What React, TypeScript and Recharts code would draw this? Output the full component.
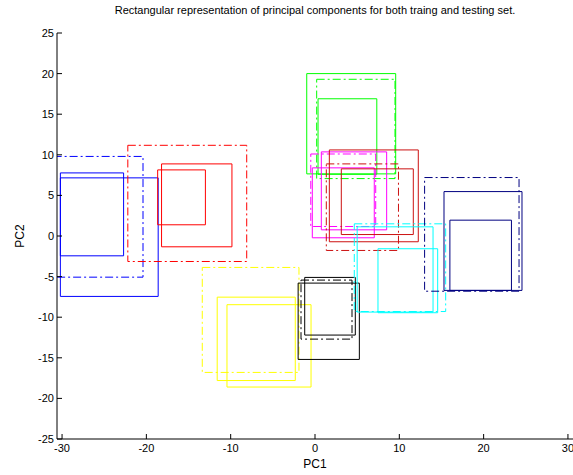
import { ComposedChart, ReferenceArea, XAxis, YAxis } from 'recharts'

// each box: [x1, x2, y1, y2] in PC1 / PC2 units
const blueBoxes = [[-30.2, -18.6, -7.44, 7.16], [-30.2, -22.7, -2.44, 7.77]]
const blueDash = [-31, -20.4, -5.07, 9.8]
const redBoxes = [[-18.2, -9.85, -1.33, 8.88], [-18.66, -13.0, 1.38, 8.14]]
const redDash = [-22.2, -8.1, -3.14, 11.17]
const yellowBoxes = [[-11.6, -2.34, -17.8, -7.53], [-10.44, -0.47, -18.6, -8.46]]
const yellowDash = [-13.37, -1.9, -16.8, -3.87]
const blackBoxes = [[-2.0, 5.26, -15.2, -5.8], [-1.22, 4.78, -12.2, -5.1]]
const blackDash = [-1.66, 4.39, -12.7, -5.43]
const greenBoxes = [[-0.98, 9.57, 7.65, 20.0], [0.36, 7.33, 7.6, 16.9]]
const greenDash = [0.2, 9.49, 7.07, 19.3]
const magentaBoxes = [[0.75, 8.5, 0.76, 10.36], [-0.32, 7.03, -0.22, 8.39]]
const magentaDash = [-0.5, 7.2, 1.17, 10.1]
const darkRedBoxes = [[1.7, 12.25, -0.71, 10.6], [3.12, 11.66, 0.18, 8.27]]
const darkRedDash = [1.34, 9.9, -1.78, 8.88]
const cyanBoxes = [[5.0, 14.0, -9.37, 1.13], [7.47, 14.55, -9.45, -1.57]]
const cyanDash = [4.66, 15.5, -9.3, 1.5]
const navyBoxes = [[15.3, 24.55, -6.7, 5.47], [16.0, 23.3, -6.7, 1.95]]
const navyDash = [13.0, 24.2, -6.8, 7.2]

const xTicks = [-30, -20, -10, 0, 10, 20, 30]
const yTicks = [-25, -20, -15, -10, -5, 0, 5, 10, 15, 20, 25]

const groups = [
  { color: '#0000ff', boxes: blueBoxes, dash: blueDash },
  { color: '#ff0000', boxes: redBoxes, dash: redDash },
  { color: '#ffff00', boxes: yellowBoxes, dash: yellowDash },
  { color: '#000000', boxes: blackBoxes, dash: blackDash },
  { color: '#00ff00', boxes: greenBoxes, dash: greenDash },
  { color: '#ff00ff', boxes: magentaBoxes, dash: magentaDash },
  { color: '#cc1111', boxes: darkRedBoxes, dash: darkRedDash },
  { color: '#00ffff', boxes: cyanBoxes, dash: cyanDash },
  { color: '#000080', boxes: navyBoxes, dash: navyDash },
]

const FONT = '"Liberation Sans", Arial, sans-serif'

const XTick = (props: any) => {
  const { x, y, payload } = props
  return (
    <g>
      <line x1={x} x2={x} y1={y} y2={y - 5} stroke="#000" />
      <text x={x} y={y + 13} textAnchor="middle" fontSize={11} fontFamily={FONT} fill="#000">
        {payload.value}
      </text>
    </g>
  )
}

const YTick = (props: any) => {
  const { x, y, payload } = props
  return (
    <g>
      <line x1={x} x2={x + 5} y1={y} y2={y} stroke="#000" />
      <text x={x - 3} y={y + 4} textAnchor="end" fontSize={11} fontFamily={FONT} fill="#000">
        {payload.value}
      </text>
    </g>
  )
}

function box(b: number[], color: string, key: string, dashed: boolean) {
  return (
    <ReferenceArea
      key={key}
      x1={b[0]}
      x2={b[1]}
      y1={b[2]}
      y2={b[3]}
      fill="none"
      fillOpacity={0}
      stroke={color}
      strokeWidth={1}
      strokeDasharray={dashed ? '8 3 2 3' : undefined}
      ifOverflow="hidden"
    />
  )
}

export default function App() {
  return (
    <div style={{ position: 'relative', width: 573, height: 475, background: '#fff', fontFamily: FONT }}>
      <style>{'body{margin:0}'}</style>
      <div
        style={{
          position: 'absolute',
          top: 4,
          left: 57,
          width: 516,
          textAlign: 'center',
          fontSize: 11,
          color: '#000',
          whiteSpace: 'nowrap',
        }}
      >
        Rectangular representation of principal components for both traing and testing set.
      </div>
      <ComposedChart width={573} height={475} data={[]} margin={{ top: 33, right: 0, bottom: 0, left: 0 }}>
        <XAxis
          type="number"
          dataKey="x"
          domain={[-30.6, 30.6]}
          ticks={xTicks}
          allowDataOverflow
          height={36}
          tickSize={0}
          tickMargin={0}
          tickLine={false}
          tick={<XTick />}
          axisLine={{ stroke: '#000' }}
          interval={0}
        />
        <YAxis
          type="number"
          dataKey="y"
          domain={[-25, 25]}
          ticks={yTicks}
          allowDataOverflow
          width={57}
          tickSize={0}
          tickMargin={0}
          tickLine={false}
          tick={<YTick />}
          axisLine={{ stroke: '#000' }}
          interval={0}
        />
        {groups.flatMap((g, i) => [
          ...g.boxes.map((b, j) => box(b, g.color, `s${i}-${j}`, false)),
          box(g.dash, g.color, `d${i}`, true),
        ])}
      </ComposedChart>
      <div
        style={{
          position: 'absolute',
          top: 457,
          left: 57,
          width: 516,
          textAlign: 'center',
          fontSize: 12,
          color: '#000',
        }}
      >
        PC1
      </div>
      <div
        style={{
          position: 'absolute',
          left: 20,
          top: 236,
          fontSize: 12,
          color: '#000',
          transform: 'translate(-50%, -50%) rotate(-90deg)',
        }}
      >
        PC2
      </div>
    </div>
  )
}
